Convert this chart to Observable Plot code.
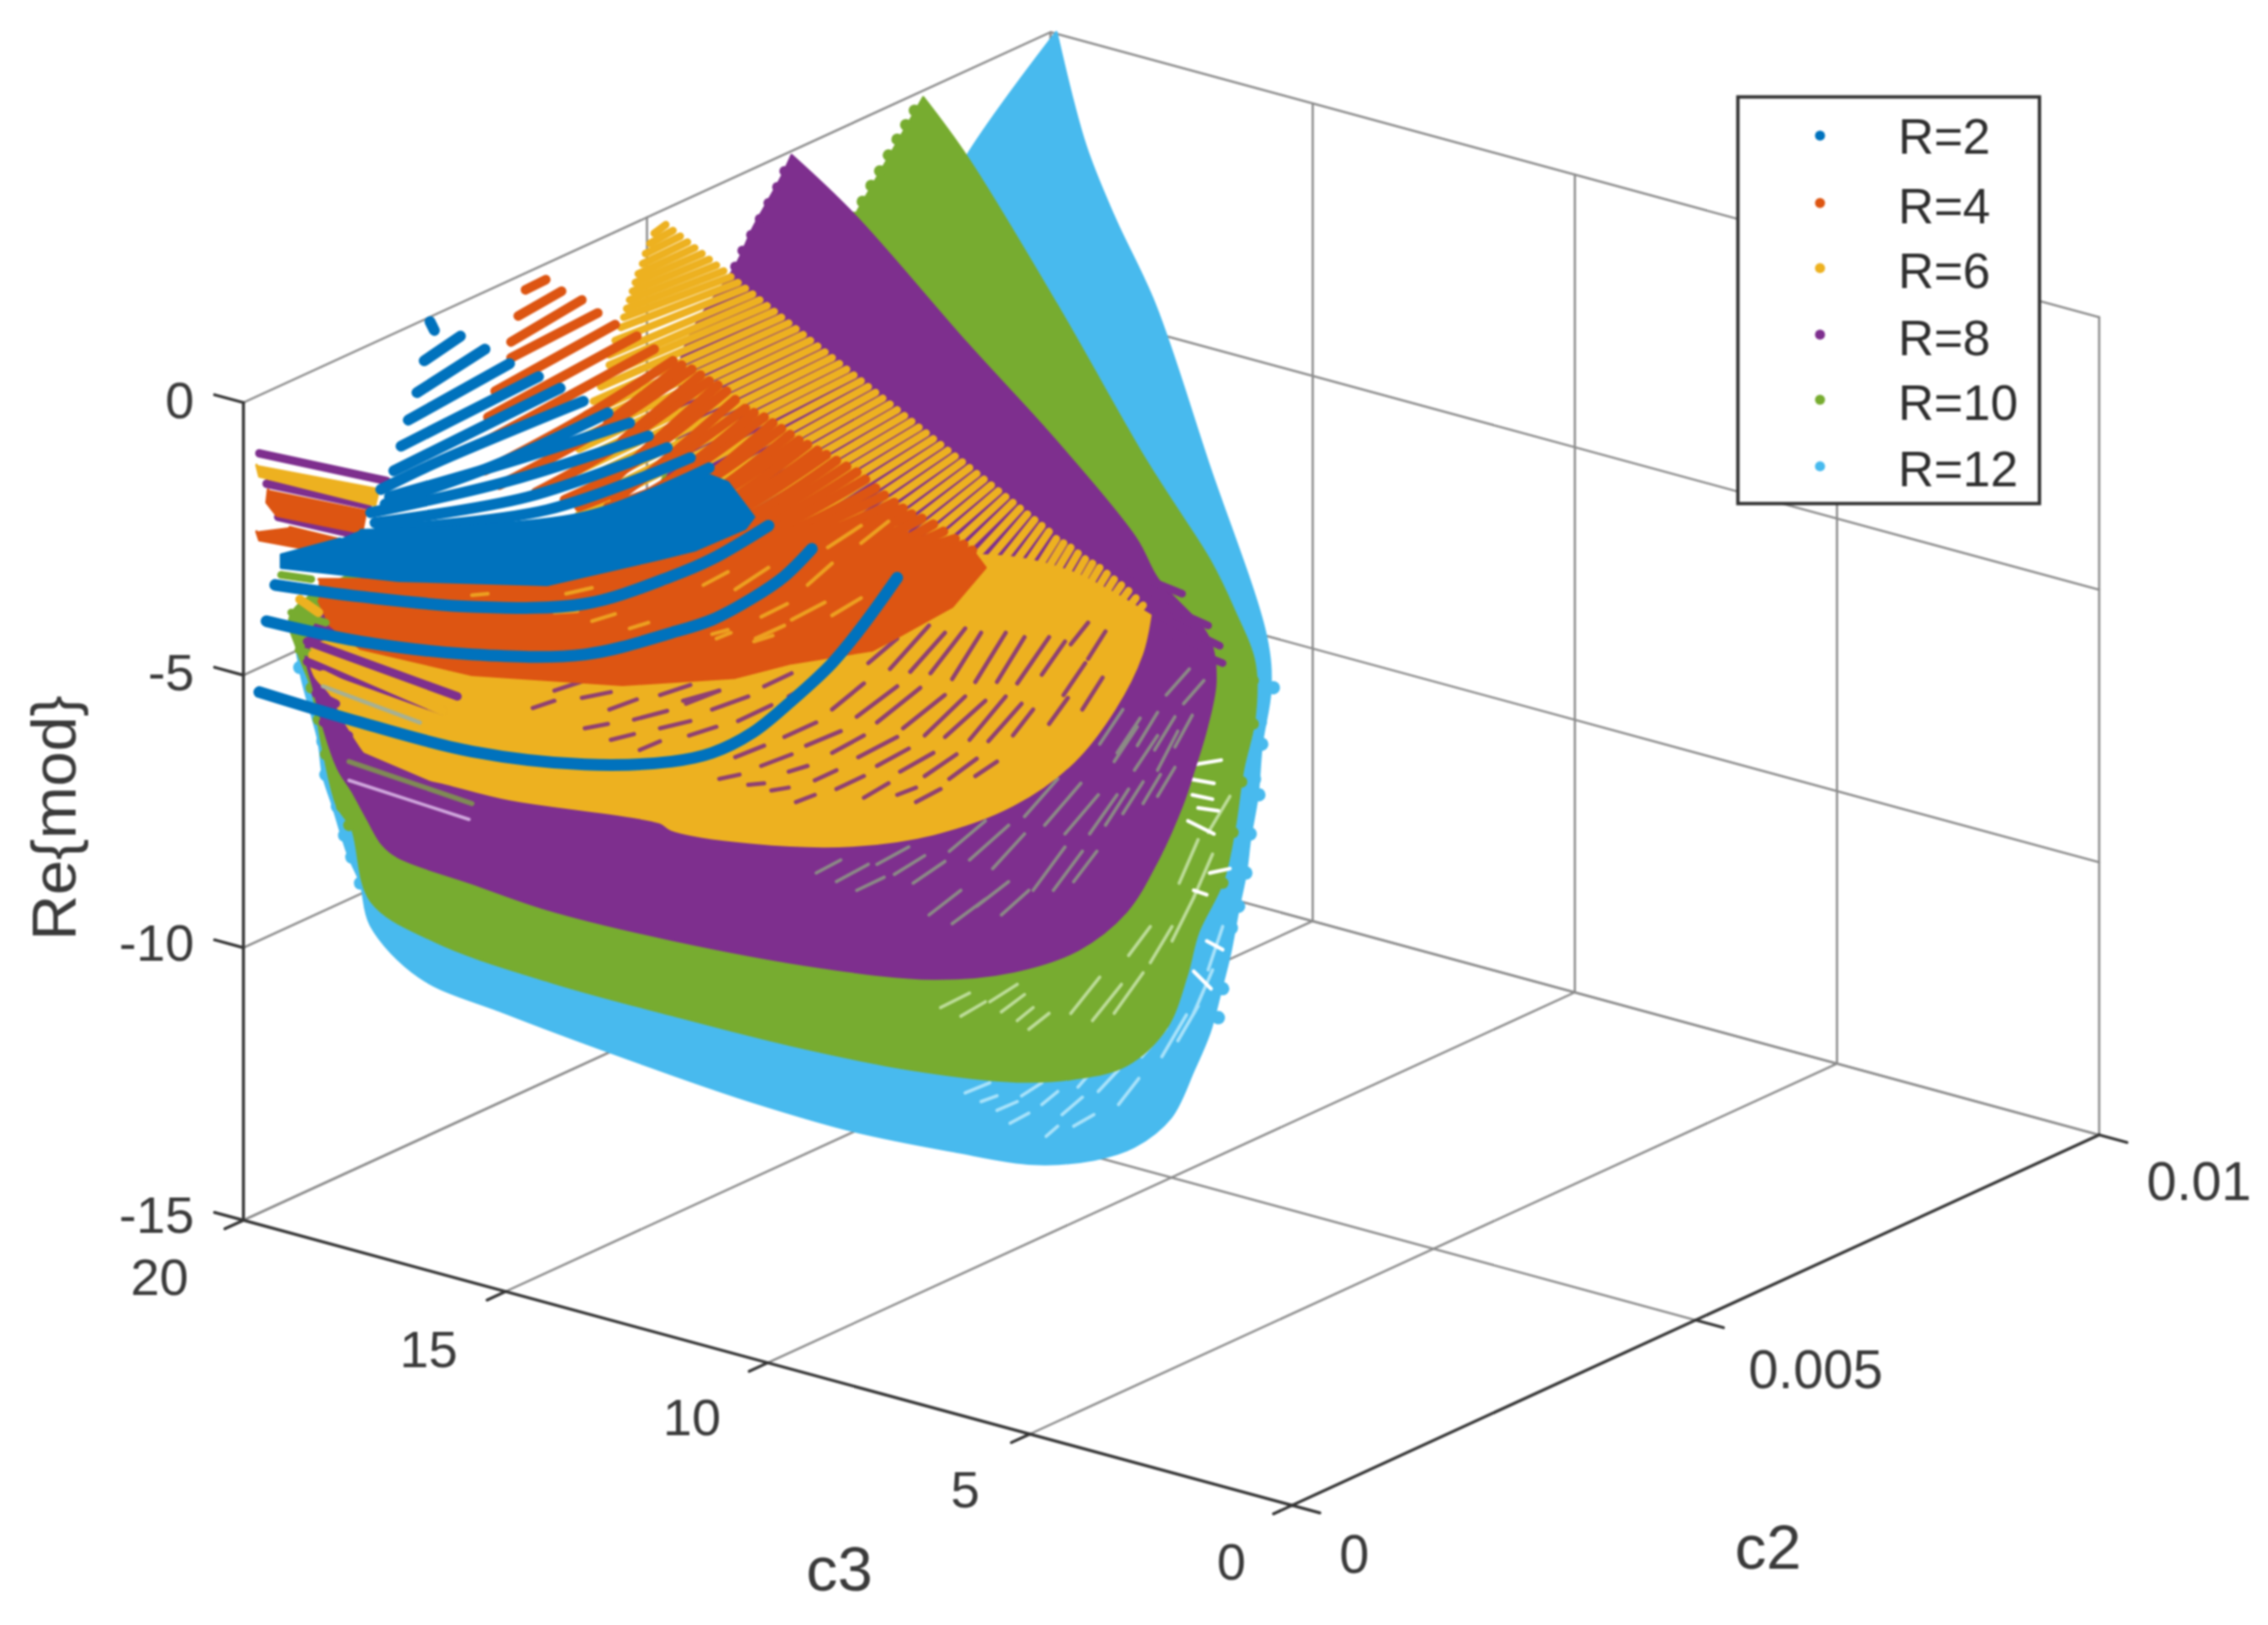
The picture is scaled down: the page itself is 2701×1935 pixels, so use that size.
<!DOCTYPE html>
<html>
<head>
<meta charset="utf-8">
<script src="https://cdn.jsdelivr.net/npm/d3@7"></script>
<script src="https://cdn.jsdelivr.net/npm/@observablehq/plot@0.6"></script>
<style>
html,body{margin:0;padding:0;background:#fff;overflow:hidden}
svg{display:block;filter:blur(1.1px)}
</style>
</head>
<body>
<div id="chart"></div>
<script>
// Axis values
const c3Ticks = [0,5,10,15,20];
const c2Ticks = [0,0.005,0.01];
const reTicks = [0,-5,-10,-15];
const seriesNames = ["R=2","R=4","R=6","R=8","R=10","R=12"];
const seriesColors = ["#0072BD","#DD5512","#EDB120","#7E2F8E","#77AC30","#48BAEE"];
const legendDotRows = [93.5,140,185,231,276,322];
const legendTextRows = [95,143,188,234,279,325];

// Values, on its projection plane (u,v pairs)
const outlineR12 = [730,22,730,22,750,100,770,150,798,210,835,320,875,440,878,476,872,514,869,550,864,579,861,603,856,627,850,659,844,683,836,713,825,739,809,772,784,792,756,801,714,804,658,795,589,781,520,761,464,742,350,700,290,675,256,639,249,610,241,592,236,577,230,557,223,535,220,512,207,461,207,440,300,375,445,350,470,300,560,200,620,200,668,108,730,22];
const outlineR10 = [638,67,638,67,668,108,730,210,790,315,811,348,836,387,853,422,867,458,867,496,859,532,853,573,845,609,828,644,820,674,806,710,778,736,742,745,703,747,631,739,547,722,464,701,380,678,300,650,256,622,243,572,233,557,223,517,215,475,205,448,201,424,300,375,445,350,470,300,560,200,590,150,638,67];
const outlineR8 = [547,107,547,107,590,148,668,237,730,305,785,372,800,400,835,440,840,470,834,502,825,532,817,556,800,594,778,630,745,656,700,671,645,676,567,668,464,649,378,628,326,610,275,592,264,583,254,566,243,546,233,530,217,477,212,443,250,400,300,375,445,350,470,300,470,250,482,222,508,184,520,158,530,140,540,122,547,107];
const outlineR6 = [795,425,795,425,789,452,770,490,742,526,700,556,645,576,589,584,520,582,464,573,456,568,352,552,308,541,262,529,241,503,228,479,217,466,215,448,240,440,400,420,560,400,640,385,700,385,740,395,770,410,795,425];
const outlineR4 = [220,415,228,432,249,448,326,466,430,473,508,468,547,458,603,449,620,440,658,419,681,392,672,380,640,372,600,360,540,365,500,375,456,385,300,400,220,400];
const outlineR2 = [249,366,300,365,380,360,440,345,490,328,503,333,521,357,515,365,480,380,456,386,378,404,275,401,194,392,194,383,235,372];

const scallopR12 = [880,475,871,499,872,514,867,538,870,549,864,576,861,603,856,626,851,641,845,683,842,703,207,461,223,512,225,535,233,557,238,577,243,592,249,610];
const scallopR10 = [215,475,220,497,225,521,236,557,241,570,866,470,866,500,858,540,852,575,845,610,590,150,596,139,602,128,608,118,614,107,620,96,626,86,632,76];
const scallopR8 = [508,184,513,173,519,162,525,151,531,140,537,129,542,118];

const strandsR8 = [
 [780,395,817,410],[790,412,835,432],[800,425,843,446],[800,440,845,458]
];
const strandsR6 = [
 [460,155,452,161],[465,159,449,168],[470,163,446,175],[475,167,444,182],[480,171,441,189],[485,175,439,195],[490,179,437,201],[495,183,435,207],[500,187,433,213],[505,191,431,219],
 [510,195,429,226],[515,199,425,235],[520,203,421,245],[525,207,421,252],[530,211,420,258],[535,215,415,267],[540,219,410,277],[545,223,405,286],[550,227,400,295],[555,231,400,303],
 [560,235,400,310],[565,239,400,318],[570,243,400,325],[575,247,400,333],[580,251,400,340],[585,255,400,348],[590,259,400,355],[595,263,410,360],[600,267,420,365],[605,271,430,368],
 [610,275,440,370],[615,279,450,373],[620,283,460,375],[625,287,470,378],[630,291,480,380],[635,295,490,382],[640,299,500,385],[645,303,510,388],[650,307,520,392],[655,311,530,395],
 [660,315,540,398],[665,319,550,402],[670,323,560,405],[675,327,568,410],[680,331,575,415],[685,335,582,420],[690,339,590,425],[695,343,598,432],[700,347,605,440],[705,351,615,448],
 [710,355,625,455],[715,359,635,460],[720,363,645,465],[725,367,655,470],[730,372,665,475],[735,375,675,473],[740,378,685,470],[745,382,695,468],[750,386,705,465],[755,389,715,458],
 [760,392,725,450],[765,396,735,445],[770,400,745,440],[775,404,752,437],[780,408,760,435],[785,413,768,435],[790,418,775,435]
];
const strandsR4 = [
 [363,200,377,193],[358,218,388,201],[353,236,402,207],[353,247,413,216],[342,270,425,224],[337,288,440,232],
 [452,241,390,275,335,305],[465,249,400,290,335,325],[478,255,410,300,345,335],[490,263,420,312,370,340],
 [502,270,430,325,390,345],[515,282,445,330,400,350],[528,288,460,335,420,350],[540,296,475,340,440,350],
 [552,304,490,345,450,355],[565,311,505,350,460,360],[578,318,520,355,470,370],[592,326,535,360,480,380],
 [605,337,550,365,490,385],[618,347,565,370,510,385],[630,355,580,375,530,385],[645,362,600,385,550,395],
 [660,372,620,385,580,400],[672,380,640,395,600,410],
 [471,252,420,292],[484,259,430,304],[496,266,440,316,420,335],[508,276,452,324,425,345],[521,285,462,332,430,350],[534,292,477,338,445,352],
 [546,300,490,342,455,358],[558,307,500,348,465,362],[571,314,512,352,470,368],[585,322,527,358,480,378],[598,331,542,362,490,382],[611,342,557,367,505,385],
 [624,351,572,372,520,385],[637,358,590,380,540,390],[652,367,610,385,565,398],[666,376,630,390,590,405]
];
const strandsR2 = [
 [297,222,300,228],[293,249,318,232],[288,271,335,241],[282,290,352,251],[277,308,372,260],[272,325,387,268],
 [263,338,300,320,403,277],[269,343,352,319,435,292],[256,354,352,332,448,301],[259,361,365,343,461,309],
 [262,366,378,352,477,316],[275,368,404,357,490,323],[266,348,340,322,420,285]
];
const longCurvesR2 = [
 [190,404,249,412,326,419,404,417,464,398,492,386,531,363],
 [184,429,249,443,326,452,404,452,464,437,492,428,520,413,542,398,561,379],
 [179,478,249,499,326,519,404,528,464,526,492,520,520,506,547,484,575,458,597,431,620,399]
];

const gapsInR6 = [
 [600,458,620,441],[615,462,642,432],[629,464,653,437],[643,465,667,434],[658,469,678,437],[674,471,695,437],[689,471,708,440],[703,472,725,440],[720,466,736,443],
 [575,490,597,472],[592,495,620,474],[606,499,636,475],[624,503,653,480],[639,508,667,481],[653,509,681,484],[670,511,695,481],[683,512,706,486],[700,508,714,490],
 [542,509,564,499],[557,515,581,505],[575,520,597,508],[593,523,620,509],[606,529,628,517],[622,533,645,520],[639,536,661,521],[656,538,675,524],[674,536,689,526],
 [508,523,528,515],[526,529,547,521],[545,533,558,529],[563,539,578,532],[578,545,597,536],[597,551,614,541],[620,549,633,544],[633,554,650,545],
 [472,484,497,477],[492,490,517,481],[510,498,533,487],[528,474,547,465],[545,481,567,469],[476,508,495,502],[497,538,511,535],[517,542,528,541],[533,546,545,544],[550,554,563,549],
 [383,477,404,470],[402,482,422,478],[368,489,383,484],[421,490,440,483],[456,480,477,473],[474,486,497,477],[438,497,461,491],[404,503,420,500],[456,503,477,498],[422,511,438,507],[442,518,456,512],
 [740,445,752,430],[752,455,764,436],[735,480,750,458],[748,490,762,468],[725,500,738,482]
];
const gapsInR4 = [
 [486,404,503,395],[508,407,531,392],[558,404,575,389],[575,425,595,413],[547,428,570,416],[522,441,542,432],[492,438,503,435],[572,378,595,363],[595,375,614,360],
 [383,423,399,422],[409,429,425,424],[435,434,448,430],[495,441,505,437],[521,443,534,439],[526,426,544,417],[391,410,409,406],[326,411,337,410]
];
const gapsInR8 = [
 [606,597,628,585],[618,604,639,591],[631,610,653,595],[656,588,681,567],[670,594,697,570],[686,600,708,576],[714,615,736,585],[728,615,748,588],[742,609,758,588],
 [708,564,731,538],[722,570,747,541],[736,576,759,549],[753,576,772,549],[770,526,786,502],[784,532,800,508],[800,532,814,505],
 [592,615,611,606],[642,632,664,615],[658,638,681,621],[675,626,697,609],[692,632,711,615],[564,603,581,594],[578,609,600,597],
 [760,514,776,490],[772,520,788,496],[786,515,800,492],[798,518,812,495],[812,516,824,494],[806,480,822,462],[818,486,832,470],[800,550,812,530],[790,555,802,535],[776,562,790,540],[764,570,780,545]
];
const gapsInR10 = [
 [684,692,703,680],[692,699,708,687],[703,705,714,696],[711,711,725,700],[650,696,670,686],[664,702,681,692],[740,700,760,675],[755,705,775,680],[770,700,790,672],
 [780,660,795,640],[795,665,810,640],[810,650,825,620],[825,620,838,590],[815,610,828,580],[835,575,850,550]
];
const gapsInR12 = [
 [745,751,758,736],[759,754,773,739],[773,763,787,745],[706,757,720,748],[720,763,731,754],[734,770,748,758],[667,755,684,748],[678,761,689,757],[689,767,703,761],[698,776,711,769],[742,778,756,770],[723,785,731,778],[789,730,806,710],[803,730,820,701],[814,719,828,695],[825,700,838,670],[835,670,845,640]
];
const whiteGaps = [
 [822,538,839,541],[824,549,838,552],[821,567,839,576],[836,603,850,600],[825,615,834,618],[834,650,845,656],[825,671,837,683],[826,528,844,525],[828,558,842,560],[300,459,324,468],[264,421,280,423]
];

// Side streaks at the high-c3 end of the surfaces
const streakPurple = [[179,313,267,332],[184,334,254,349],[192,357,249,370],[212,443,316,481],[212,457,306,491],[218,479,232,486],[223,499,241,508],[230,514,326,555]];
const streakYellowBlock = [177,321,179,329,259,349,262,337];
const streakOrangeBlock = [185,338,184,347,191,356,250,368,253,352];
const streakOrangeLow = [177,367,179,373,233,383,241,374,200,364];
const streakGreen = [[194,397,215,400],[201,423,225,430],[206,449,214,451]];
const streakYellow = [[207,414,220,423],[216,452,306,491],[223,466,298,503]];
const streakGrey = [[223,474,290,499]];
const streakOlive = [[241,526,326,555]];
const streakPink = [[241,539,324,566]];

// Build rows for the library
const pairs = (list, id = 0) => d3.range(0, list.length, 2).map(i => ({u: list[i], v: list[i + 1], id}));
const many = lists => lists.flatMap((l, k) => pairs(l, k));
const project = (c3, c2, re) => ({
  u: 893 - 36.25 * c3 + 558 * (c2 / 0.01),
  v: 1040 - 9.85 * c3 - 256 * (c2 / 0.01) - (re + 15) * 37.67
});
const c3Max = 20, c2Max = 0.01, reMin = -15, reMax = 0;
let gid = 0;
const seg = (a, b) => { gid++; return [{...project(...a), id: gid}, {...project(...b), id: gid}]; };

const grid = [];
for (const t of c3Ticks) {
  grid.push(...seg([t,0,reMin],[t,c2Max,reMin]));
  grid.push(...seg([t,c2Max,reMin],[t,c2Max,reMax]));
}
for (const t of c2Ticks) {
  grid.push(...seg([0,t,reMin],[c3Max,t,reMin]));
  grid.push(...seg([c3Max,t,reMin],[c3Max,t,reMax]));
}
for (const t of reTicks) {
  grid.push(...seg([c3Max,0,t],[c3Max,c2Max,t]));
  grid.push(...seg([c3Max,c2Max,t],[0,c2Max,t]));
}
const axes = [];
axes.push(...seg([c3Max,0,reMin],[c3Max,0,reMax]));
axes.push(...seg([c3Max,0,reMin],[0,0,reMin]));
axes.push(...seg([0,0,reMin],[0,c2Max,reMin]));
for (const t of reTicks) axes.push(...seg([c3Max,0,t],[c3Max+0.55,0,t]));
for (const t of c3Ticks) axes.push(...seg([t,0,reMin],[t,-0.00023,reMin]));
for (const t of c2Ticks) axes.push(...seg([0,t,reMin],[-0.53,t,reMin]));

// Tick and axis label texts
const reLabels = reTicks.map((t, i) => ({t: String(t), u: 134, v: [277,465,652,840][i]}));
const c3Labels = c3Ticks.map((t, i) => ({t: String(t), u: [851,667,478,296,110][i], v: [1080,1030,980,933,883][i]}));
const c2Labels = ["0","0.005","0.01"].map((t, i) => ({t, u: [936,1255,1520][i], v: [1075,947,817][i]}));
const axisTitles = [{t:"c3", u:580, v:1085},{t:"c2", u:1222, v:1070}];
const yTitle = [{t:"Re{mod}", u:38, v:565}];

const [cBlue,cOrange,cYellow,cPurple,cGreen,cCyan] = seriesColors;
const poly = (list, color, curve="catmull-rom") => Plot.line(pairs(list), {x:"u", y:"v", fill:color, stroke:color, strokeWidth:3, strokeLinejoin:"round", curve});
const strands = (lists, color, w, curve="linear") => Plot.line(many(lists), {x:"u", y:"v", z:"id", stroke:color, strokeWidth:w, strokeLinecap:"round", curve});

const legendFrame = [{x1:1201.5,x2:1410,y1:67,y2:348}];

const chart = Plot.plot({
  width: 2701, height: 1935,
  marginTop:0, marginRight:0, marginBottom:0, marginLeft:0,
  x:{domain:[0,1568], axis:null},
  y:{domain:[1123,0], axis:null},
  style:{background:"#fff", fontFamily:"'Liberation Sans', Arial, sans-serif"},
  marks:[
    Plot.line(grid,{x:"u",y:"v",z:"id",stroke:"#8c8c8c",strokeWidth:2.6}),
    Plot.line(axes,{x:"u",y:"v",z:"id",stroke:"#363636",strokeWidth:3.5}),

    poly(outlineR12,cCyan),
    Plot.dot(pairs(scallopR12),{x:"u",y:"v",r:8,fill:cCyan}),
    strands(gapsInR12,"#a8e2fa",4),
    poly(outlineR10,cGreen),
    Plot.dot(pairs(scallopR10),{x:"u",y:"v",r:7,fill:cGreen}),
    strands(gapsInR10,"#bcdc98",4),
    strands(whiteGaps,"#ffffff",4.5),
    poly(outlineR8,cPurple),
    Plot.dot(pairs(scallopR8),{x:"u",y:"v",r:6,fill:cPurple}),
    strands(strandsR8,cPurple,9),
    strands(gapsInR8,"#8b8a86",4),

    strands(strandsR6,cYellow,9),
    poly(outlineR6,cYellow),
    strands(gapsInR6,"#8f4072",5),

    strands(strandsR4,cOrange,11.5,"catmull-rom"),
    poly(outlineR4,cOrange,"linear"),
    strands(gapsInR4,"#EDA020",4.5),

    // left-hand streaks
    strands(streakPurple,cPurple,10),
    poly(streakYellowBlock,cYellow,"linear"),
    poly(streakOrangeBlock,cOrange,"linear"),
    poly(streakOrangeLow,cOrange,"linear"),
    strands(streakGreen,cGreen,9),
    strands(streakYellow,cYellow,11),
    strands(streakGrey,"#a7b092",5),
    strands(streakOlive,"#7f8a55",6),
    strands(streakPink,"#cfa6dc",4),

    strands(strandsR2,cBlue,13,"catmull-rom"),
    poly(outlineR2,cBlue,"linear"),
    strands(longCurvesR2,cBlue,14,"catmull-rom"),

    // tick labels and axis titles
    Plot.text(reLabels,{x:"u",y:"v",text:"t",textAnchor:"end",fontSize:62,fill:"#3a3a3a"}),
    Plot.text(c3Labels,{x:"u",y:"v",text:"t",fontSize:62,fill:"#3a3a3a"}),
    Plot.text(c2Labels,{x:"u",y:"v",text:"t",fontSize:64,fill:"#3a3a3a"}),
    Plot.text(axisTitles,{x:"u",y:"v",text:"t",fontSize:75,fill:"#3a3a3a"}),
    Plot.text(yTitle,{x:"u",y:"v",text:"t",fontSize:75,rotate:-90,fill:"#3a3a3a"}),

    // legend
    Plot.rect(legendFrame,{x1:"x1",x2:"x2",y1:"y1",y2:"y2",fill:"#fff",stroke:"#333",strokeWidth:4}),
    Plot.dot(seriesNames,{x:()=>1258,y:(d,i)=>legendDotRows[i],r:6,fill:(d,i)=>seriesColors[i]}),
    Plot.text(seriesNames,{x:()=>1312,y:(d,i)=>legendTextRows[i],text:d=>d,textAnchor:"start",fontSize:59,fill:"#2e2e2e"})
  ]
});
document.getElementById("chart").append(chart);
</script>
</body>
</html>
